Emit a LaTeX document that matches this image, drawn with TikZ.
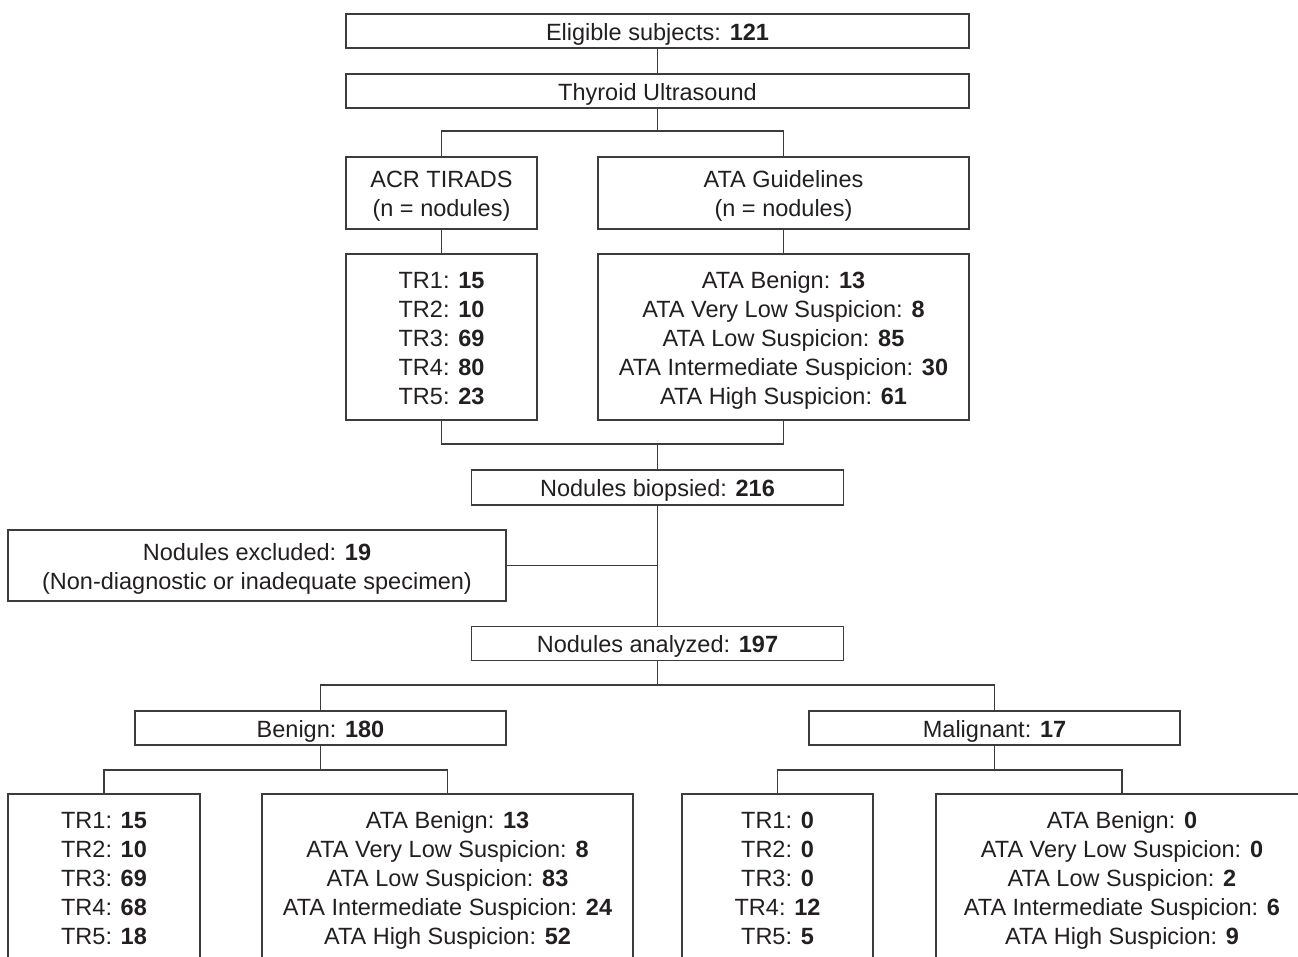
\documentclass[tikz,border=0pt]{standalone}
\usepackage{fontspec}
\setmainfont{Liberation Sans}
\definecolor{linec}{HTML}{3C3C3C}
\definecolor{textc}{HTML}{231F20}
\newcommand{\topst}{\rule{0pt}{24pt}}
\newcommand{\botst}{\rule[-5.2pt]{0pt}{0pt}}
\begin{document}
\begin{tikzpicture}[x=1pt,y=-1pt,
  box/.style={draw=linec, line width=1.3pt, rectangle, inner sep=0pt, align=center,
    font=\fontsize{23.5}{29}\selectfont, text=textc},
  conn/.style={draw=linec, line width=1.3pt}]
\useasboundingbox (0,0) rectangle (1298,956);
\clip (0,0) rectangle (1298,956);

\node[box, minimum width=623pt, minimum height=34pt] (elig) at (657.5,31) {\topst Eligible subjects: \textbf{121}\botst};
\node[box, minimum width=623pt, minimum height=34pt] (thy) at (657.5,91) {\topst Thyroid Ultrasound\botst};
\node[box, minimum width=191pt, minimum height=72pt] (acr) at (441.5,193) {\topst ACR TIRADS\\(n = nodules)\botst};
\node[box, minimum width=371pt, minimum height=72pt] (ata) at (783.5,193) {\topst ATA Guidelines\\(n = nodules)\botst};
\node[box, minimum width=191pt, minimum height=166pt] (trl) at (441.5,337)
  {\topst TR1: \textbf{15}\\TR2: \textbf{10}\\TR3: \textbf{69}\\TR4: \textbf{80}\\TR5: \textbf{23}\botst};
\node[box, minimum width=371pt, minimum height=166pt] (atal) at (783.5,337)
  {\topst ATA Benign: \textbf{13}\\ATA Very Low Suspicion: \textbf{8}\\ATA Low Suspicion: \textbf{85}\\ATA Intermediate Suspicion: \textbf{30}\\ATA High Suspicion: \textbf{61}\botst};
\node[box, minimum width=372pt, minimum height=35pt] (bio) at (657.5,487.5) {\topst Nodules biopsied: \textbf{216}\botst};
\node[box, minimum width=498pt, minimum height=71pt] (excl) at (257,565.5) {\topst Nodules excluded: \textbf{19}\\(Non-diagnostic or inadequate specimen)\botst};
\node[box, minimum width=372pt, minimum height=34pt] (ana) at (657.5,643.5) {\topst Nodules analyzed: \textbf{197}\botst};
\node[box, minimum width=371pt, minimum height=34pt] (ben) at (320.5,728) {\topst Benign: \textbf{180}\botst};
\node[box, minimum width=371pt, minimum height=34pt] (mal) at (994.5,728) {\topst Malignant: \textbf{17}\botst};
\node[box, minimum width=192pt, minimum height=166pt] (btr) at (104,877)
  {\topst TR1: \textbf{15}\\TR2: \textbf{10}\\TR3: \textbf{69}\\TR4: \textbf{68}\\TR5: \textbf{18}\botst};
\node[box, minimum width=371pt, minimum height=166pt] (bata) at (447.5,877)
  {\topst ATA Benign: \textbf{13}\\ATA Very Low Suspicion: \textbf{8}\\ATA Low Suspicion: \textbf{83}\\ATA Intermediate Suspicion: \textbf{24}\\ATA High Suspicion: \textbf{52}\botst};
\node[box, minimum width=191pt, minimum height=166pt] (mtr) at (777.5,877)
  {\topst TR1: \textbf{0}\\TR2: \textbf{0}\\TR3: \textbf{0}\\TR4: \textbf{12}\\TR5: \textbf{5}\botst};
\node[box, minimum width=372pt, minimum height=166pt] (mata) at (1122,877)
  {\topst ATA Benign: \textbf{0}\\ATA Very Low Suspicion: \textbf{0}\\ATA Low Suspicion: \textbf{2}\\ATA Intermediate Suspicion: \textbf{6}\\ATA High Suspicion: \textbf{9}\botst};

\coordinate (s1) at (657.5,131);
\coordinate (j1) at (657.5,444);
\coordinate (e1) at (657.5,565.5);
\coordinate (s2) at (657.5,685);
\coordinate (s3) at (320.5,770);
\coordinate (s4) at (994.5,770);

\draw[conn] (elig) -- (thy);
\draw[conn] (thy.south) -- (s1);
\draw[conn] (acr.north) |- (s1) -| (ata.north);
\draw[conn] (acr) -- (trl);
\draw[conn] (ata) -- (atal);
\draw[conn] (trl.south) |- (j1) -| (atal.south);
\draw[conn] (j1) -- (bio.north);
\draw[conn] (bio.south) -- (ana.north);
\draw[conn] (excl.east) -- (e1);
\draw[conn] (ana.south) -- (s2);
\draw[conn] (ben.north) |- (s2) -| (mal.north);
\draw[conn] (ben.south) -- (s3);
\draw[conn] (btr.north) |- (s3) -| (bata.north);
\draw[conn] (mal.south) -- (s4);
\draw[conn] (mtr.north) |- (s4) -| (mata.north);
\end{tikzpicture}
\end{document}
